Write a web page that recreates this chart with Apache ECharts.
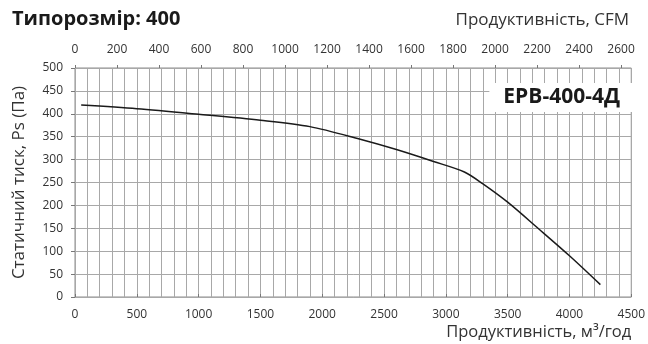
<!DOCTYPE html>
<html><head><meta charset="utf-8">
<script src="https://cdn.jsdelivr.net/npm/echarts@6/dist/echarts.min.js"></script>
<style>html,body{margin:0;padding:0;background:#fff}#c{width:648px;height:344px}</style>
</head><body><div id="c"></div>
<script>
const flowM3h = [50, 500, 1000, 1500, 1900, 2300, 2600, 2900, 3150, 3300, 3500, 3750, 4000, 4250];
const pressurePa = [419, 411, 399, 386, 372, 345, 322, 296, 273, 247, 207, 149, 90, 27];
const cfmTicks = [0, 200, 400, 600, 800, 1000, 1200, 1400, 1600, 1800, 2000, 2200, 2400, 2600];
const M3H_PER_CFM = 1.699;
const titleText = 'Типорозмір: 400';
const modelText = 'ЕРВ-400-4Д';

const FONT = '"Open Sans", sans-serif';
const gridColor = '#a8a8a8';
const plain = v => String(Math.round(v));
const chart = echarts.init(document.getElementById('c'));
chart.setOption({
  animation: false,
  textStyle: { fontFamily: FONT },
  title: [
    { text: titleText, left: 7, top: 4, textStyle: { fontFamily: FONT, fontWeight: 'bold', fontSize: 20, color: '#1a1a1a' } },
    { text: 'Продуктивність, CFM', right: 14, top: 7, textStyle: { fontFamily: FONT, fontWeight: 'normal', fontSize: 17, color: '#333' } },
    { text: modelText, right: 16, top: 83, backgroundColor: '#fff', padding: [4, 12, 4, 14],
      textStyle: { fontFamily: FONT, fontWeight: 'bold', fontSize: 21, lineHeight: 21, color: '#1a1a1a' } }
  ],
  grid: { left: 75, right: 15, top: 68, bottom: 47, show: true, borderColor: '#8c8c8c', borderWidth: 1 },
  xAxis: [
    { type: 'value', min: 0, max: 4500, interval: 500, position: 'bottom',
      name: 'Продуктивність, м³/год', nameLocation: 'end', nameGap: 0,
      nameTextStyle: { fontSize: 16.5, color: '#333', align: 'right', verticalAlign: 'top', padding: [27, 0, 0, 0] },
      axisLine: { show: false },
      axisTick: { show: true, inside: true, length: 3, lineStyle: { color: '#777' } },
      axisLabel: { fontSize: 12, color: '#333', margin: 12, formatter: plain },
      splitLine: { show: true, lineStyle: { color: gridColor, width: 1 } },
      minorTick: { show: false, splitNumber: 5 },
      minorSplitLine: { show: true, lineStyle: { color: gridColor, width: 1 } }
    },
    { type: 'value', min: 0, max: 4500 / M3H_PER_CFM, position: 'top', interval: 200,
      axisLine: { show: false },
      axisTick: { show: true, inside: false, length: 3, customValues: cfmTicks, lineStyle: { color: '#777' } },
      axisLabel: { fontSize: 12, color: '#333', margin: 12, customValues: cfmTicks, formatter: plain },
      splitLine: { show: false }
    }
  ],
  yAxis: {
    type: 'value', min: 0, max: 500, interval: 50,
    name: 'Статичний тиск, Ps (Па)', nameLocation: 'middle', nameGap: 47,
    nameTextStyle: { fontSize: 17, color: '#333' },
    axisLine: { show: false },
    axisTick: { show: true, inside: false, length: 4, lineStyle: { color: '#777' } },
    axisLabel: { fontSize: 12, color: '#333', margin: 12, formatter: plain },
    splitLine: { show: true, lineStyle: { color: gridColor, width: 1 } }
  },
  series: [{
    type: 'line', xAxisIndex: 0, yAxisIndex: 0,
    data: flowM3h.map((q, i) => [q, pressurePa[i]]),
    smooth: 0.3, showSymbol: false,
    lineStyle: { color: '#1a1a1a', width: 1.5 }
  }]
});
</script></body></html>
